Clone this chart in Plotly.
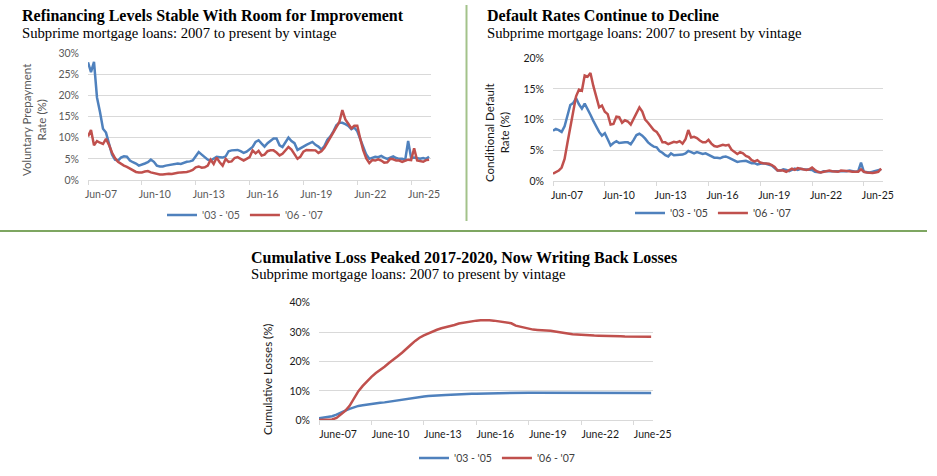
import pandas as pd
import plotly.graph_objects as go

# monthly-ish observations, every 2 months from Jun 2007; cumulative series quarterly
dates = pd.date_range("2007-06-01", periods=115, freq="2MS")
qdates = pd.date_range("2007-06-01", periods=77, freq="3MS")
tick_dates = pd.date_range("2007-06-01", periods=7, freq="36MS")
tick_short = ["Jun-07", "Jun-10", "Jun-13", "Jun-16", "Jun-19", "Jun-22", "Jun-25"]
tick_long = ["June-07", "June-10", "June-13", "June-16", "June-19", "June-22", "June-25"]

series_names = ["'03 - '05", "'06 - '07"]

prepay_0305 = [
    27.8, 25.5, 27.9, 19.5, 16.0, 12.1, 11.2, 8.5, 6.0, 4.8,
    4.6, 5.3, 5.6, 5.5, 4.6, 4.2, 3.9, 3.4, 3.6, 3.9,
    4.2, 4.8, 4.3, 3.4, 3.2, 3.2, 3.4, 3.5, 3.7, 3.7,
    3.9, 3.8, 4.1, 4.3, 4.4, 4.6, 5.6, 6.6, 6.0, 5.3,
    4.8, 4.6, 5.1, 5.5, 5.4, 5.3, 5.6, 6.8, 7.0, 7.0,
    7.1, 6.8, 6.4, 6.7, 7.2, 7.8, 9.0, 9.4, 8.6, 7.9,
    8.7, 9.3, 9.8, 9.8, 8.2, 7.8, 9.0, 10.0, 9.2, 8.7,
    7.1, 7.4, 7.9, 8.3, 8.6, 9.0, 8.3, 7.9, 7.2, 8.0,
    9.5, 10.3, 11.5, 12.9, 13.5, 13.5, 13.2, 12.8, 12.0, 12.4,
    11.5, 9.5, 7.5, 6.0, 5.0, 5.2, 5.5, 5.4, 5.7, 5.3,
    5.0, 5.3, 5.6, 5.2, 5.0, 5.0, 4.8, 9.2, 5.2, 5.3,
    5.1, 5.0, 5.2, 5.0, 5.5,
]
prepay_0607 = [
    10.3, 11.8, 8.2, 9.2, 8.8, 8.5, 9.7, 8.3, 6.5, 5.2,
    4.3, 3.8, 3.4, 3.1, 2.7, 2.2, 1.9, 1.8, 1.8, 2.0,
    2.1, 1.8, 1.6, 1.4, 1.3, 1.3, 1.4, 1.5, 1.4, 1.6,
    1.7, 1.8, 1.8, 1.9, 2.1, 2.4, 3.0, 3.2, 2.9, 3.0,
    3.4, 4.8, 3.8, 5.3, 4.2, 3.4, 5.0, 4.3, 4.4, 5.2,
    5.4, 5.0, 4.6, 5.0, 5.4, 7.0, 6.3, 6.9, 5.8, 6.0,
    6.8, 7.0, 7.0, 6.5, 5.8, 6.2, 6.9, 7.8, 7.2, 6.0,
    5.0, 5.5, 6.7, 7.1, 7.1, 7.0, 7.0, 6.4, 6.8, 7.6,
    8.8, 10.0, 11.3, 12.5, 13.7, 16.5, 14.3, 13.3, 12.2, 12.8,
    12.8, 9.7, 7.0, 5.1, 4.0, 4.7, 4.6, 4.9, 4.6, 4.1,
    4.2, 5.0, 4.9, 4.6, 4.6, 4.3, 4.5, 4.8, 4.7, 7.5,
    4.6, 4.5, 4.3, 4.7, 4.8,
]

default_0305 = [
    8.2, 8.5, 8.3, 8.0, 8.9, 10.8, 12.4, 12.7, 13.5, 12.5,
    11.8, 12.6, 11.8, 10.8, 9.8, 8.8, 8.0, 7.4, 7.8, 6.8,
    5.8, 6.2, 6.5, 6.2, 6.3, 6.3, 6.3, 6.0, 6.7, 7.5,
    7.7, 7.4, 6.9, 6.3, 5.9, 5.6, 5.5, 4.9, 4.6, 4.2,
    4.0, 4.5, 4.2, 4.2, 4.3, 4.3, 4.5, 4.9, 4.7, 4.5,
    4.7, 4.5, 4.4, 4.5, 4.3, 4.1, 3.8, 3.8, 3.7, 3.9,
    4.0, 3.8, 3.6, 3.3, 3.1, 3.2, 3.3, 3.3, 3.1, 2.9,
    2.9, 2.7, 2.8, 2.9, 2.8, 2.6, 2.5, 2.1, 1.7, 1.7,
    1.9, 1.8, 1.6, 1.8, 2.0, 1.8, 2.0, 1.9, 1.9, 1.9,
    1.8, 1.5, 1.5, 1.4, 1.6, 1.6, 1.6, 1.5, 1.6, 1.6,
    1.6, 1.6, 1.6, 1.7, 1.6, 1.5, 1.6, 3.0, 1.5, 1.4,
    1.4, 1.5, 1.6, 1.7, 1.9,
]
default_0607 = [
    1.2, 1.5, 1.7, 2.2, 3.6, 6.2, 9.0, 11.3, 13.8, 14.9,
    14.7, 17.2, 17.0, 17.6, 15.5, 13.8, 12.0, 12.3, 11.3, 10.9,
    9.2, 9.3, 10.5, 10.4, 9.5, 9.9, 9.7, 9.2, 10.2, 11.2,
    12.0, 11.3, 10.0, 9.5, 8.9, 8.3, 8.0, 7.3, 6.3, 6.3,
    6.0, 6.2, 6.4, 6.3, 6.5, 6.1, 6.8, 8.3, 7.1, 7.2,
    7.0, 6.6, 6.3, 6.3, 6.7, 6.1, 5.7, 5.6, 5.8, 5.9,
    5.8, 5.9, 5.1, 4.8, 4.4, 4.7, 4.5, 4.1, 3.9, 3.4,
    3.2, 3.4, 3.0, 2.9, 2.9, 2.8, 2.6, 2.3, 1.7, 1.7,
    1.7, 1.5, 1.7, 2.0, 1.8, 2.1, 2.0, 1.9, 1.8, 1.9,
    2.2, 1.8, 1.5, 1.4, 1.5, 1.7, 1.7, 1.6, 1.5, 1.5,
    1.7, 1.7, 1.6, 1.6, 1.5, 1.5, 1.5, 1.9, 1.5, 1.4,
    1.3, 1.3, 1.4, 1.5, 2.0,
]

cum_0305 = [
    0.7, 0.85, 1.05, 1.4, 1.9, 2.7, 3.3, 3.9, 4.5, 4.9,
    5.1, 5.35, 5.6, 5.8, 5.95, 6.1, 6.35, 6.6, 6.8, 7.0,
    7.2, 7.45, 7.7, 7.9, 8.1, 8.25, 8.4, 8.45, 8.55, 8.6,
    8.7, 8.75, 8.85, 8.9, 8.95, 9.0, 9.05, 9.1, 9.15, 9.2,
    9.2, 9.25, 9.3, 9.3, 9.3, 9.35, 9.35, 9.4, 9.4, 9.4,
    9.4, 9.4, 9.4, 9.4, 9.4, 9.4, 9.4, 9.4, 9.4, 9.4,
    9.4, 9.3, 9.3, 9.3, 9.3, 9.3, 9.3, 9.3, 9.3, 9.3,
    9.3, 9.3, 9.3, 9.3, 9.3, 9.3, 9.3,
]
cum_0607 = [
    0.1, 0.1, 0.15, 0.3, 0.8, 2.0, 3.2, 4.9, 7.2, 9.9,
    11.7, 13.3, 14.8, 16.1, 17.1, 18.2, 19.5, 20.8, 21.8, 23.0,
    24.5, 25.7, 27.0, 28.1, 28.9, 29.6, 30.3, 30.8, 31.3, 31.6,
    31.9, 32.4, 32.9, 33.2, 33.5, 33.7, 33.9, 34.0, 34.1, 34.0,
    33.9, 33.7, 33.5, 33.4, 33.0, 32.2, 31.8, 31.4, 31.0, 30.85,
    30.75, 30.7, 30.6, 30.45, 30.2, 29.95, 29.7, 29.45, 29.3, 29.2,
    29.05, 28.95, 28.9, 28.85, 28.8, 28.8, 28.75, 28.7, 28.6, 28.55,
    28.5, 28.45, 28.4, 28.4, 28.4, 28.4, 28.4,
]

W, H = 937, 476
BLUE, RED = "#4f81bd", "#c0504d"
GRID = "#d9d9d9"
GRAY_TXT = "#595959"
DARK_TXT = "#1a1a1a"
SANS = "Lato, 'Open Sans', sans-serif"
SERIF = "'Liberation Serif', 'DejaVu Serif', serif"


def px_x(v):
    return v / W


def px_y(v):
    return 1 - v / H


fig = go.Figure()

panels = [
    ("x", "y", "legend", dates, prepay_0305, prepay_0607),
    ("x2", "y2", "legend2", dates, default_0305, default_0607),
    ("x3", "y3", "legend3", qdates, cum_0305, cum_0607),
]
for xa, ya, lg, xs, s1, s2 in panels:
    for name, vals, col in [(series_names[0], s1, BLUE), (series_names[1], s2, RED)]:
        fig.add_trace(go.Scatter(
            x=xs, y=vals, name=name, mode="lines", xaxis=xa, yaxis=ya,
            line=dict(color=col, width=2.5), legend=lg,
        ))


def xaxis(dom, anchor, labels, txtcol, shift):
    return dict(
        domain=dom, anchor=anchor, range=["2007-06-01", "2026-07-10"],
        tickmode="array", tickvals=tick_dates, ticktext=labels,
        ticks="outside", ticklen=4, tickcolor=GRID, ticklabelshift=shift,
        showgrid=False, showline=True, linecolor=GRID, linewidth=1,
        tickfont=dict(family=SANS, size=10.5, color=txtcol), zeroline=False,
    )


def yaxis(dom, anchor, top, step, txtcol):
    return dict(
        domain=dom, anchor=anchor, range=[0, top], dtick=step, ticksuffix="%",
        showgrid=True, gridcolor=GRID, gridwidth=1, zeroline=False,
        showline=False, ticks="", ticklabelstandoff=8,
        tickfont=dict(family=SANS, size=10.5, color=txtcol),
    )


fig.update_layout(
    width=W, height=H,
    margin=dict(l=0, r=0, t=0, b=0, pad=0, autoexpand=False),
    paper_bgcolor="white", plot_bgcolor="white",
    xaxis=xaxis([px_x(88), px_x(431)], "y", tick_short, GRAY_TXT, 13),
    yaxis=yaxis([px_y(180), px_y(53)], "x", 30, 5, GRAY_TXT),
    xaxis2=xaxis([px_x(553), px_x(883)], "y2", tick_short, DARK_TXT, 14),
    yaxis2=yaxis([px_y(181), px_y(58.3)], "x2", 20, 5, DARK_TXT),
    xaxis3=xaxis([px_x(319), px_x(653)], "y3", tick_long, DARK_TXT, 19),
    yaxis3=yaxis([px_y(420.3), px_y(302.7)], "x3", 40, 10, DARK_TXT),
)

leg_common = dict(orientation="h", xanchor="center", yanchor="middle",
                  bgcolor="rgba(0,0,0,0)", itemwidth=30, tracegroupgap=0)
fig.update_layout(
    legend=dict(x=px_x(245), y=px_y(215), font=dict(family=SANS, size=10.5, color=GRAY_TXT), **leg_common),
    legend2=dict(x=px_x(713), y=px_y(213), font=dict(family=SANS, size=10.5, color="#404040"), **leg_common),
    legend3=dict(x=px_x(497), y=px_y(458), font=dict(family=SANS, size=10.5, color="#404040"), **leg_common),
)

# titles and subtitles
heads = [
    (20, 16, "Refinancing Levels Stable With Room for Improvement", 33),
    (485, 16, "Default Rates Continue to Decline", 33),
    (249, 258, "Cumulative Loss Peaked 2017-2020, Now Writing Back Losses", 274),
]
for x0, y0, title, ysub in heads:
    fig.add_annotation(x=px_x(x0), y=px_y(y0), xref="paper", yref="paper",
                       text="<b>" + title + "</b>", showarrow=False,
                       xanchor="left", yanchor="middle",
                       font=dict(family=SERIF, size=16, color="black"))
    fig.add_annotation(x=px_x(x0), y=px_y(ysub), xref="paper", yref="paper",
                       text="Subprime mortgage loans: 2007 to present by vintage",
                       showarrow=False, xanchor="left", yanchor="middle",
                       font=dict(family=SERIF, size=14.7, color="black"))

# axis titles
ytitles = [
    (34, 120, "Voluntary Prepayment<br>Rate (%)", GRAY_TXT),
    (497, 132, "Conditional Default<br>Rate (%)", DARK_TXT),
    (267, 380, "Cumulative Losses (%)", DARK_TXT),
]
for xc, yc, txt, col in ytitles:
    fig.add_annotation(x=px_x(xc), y=px_y(yc), xref="paper", yref="paper",
                       text=txt, showarrow=False, textangle=-90,
                       xanchor="center", yanchor="middle",
                       font=dict(family=SANS, size=11.5, color=col))

# green separators
fig.add_shape(type="line", xref="paper", yref="paper",
              x0=px_x(466.5), x1=px_x(466.5), y0=px_y(5), y1=px_y(221),
              line=dict(color="#a3c28a", width=2))
fig.add_shape(type="line", xref="paper", yref="paper",
              x0=0, x1=px_x(927), y0=px_y(231), y1=px_y(231),
              line=dict(color="#7ea661", width=2))

# drop the browser's default body margin so the figure sits at the page origin
fig.write_html("out.html", config={"displayModeBar": False},
               post_script="document.body.style.margin='0';")
